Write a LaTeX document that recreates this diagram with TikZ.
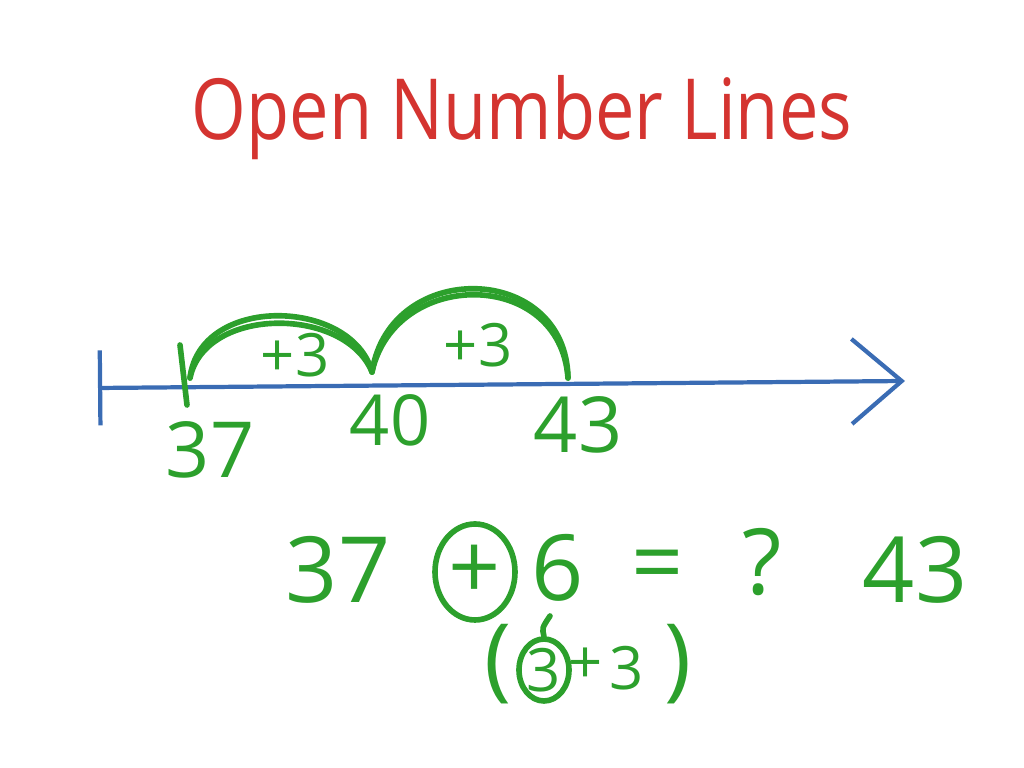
\documentclass[tikz,border=0pt]{standalone}
\usepackage{fontspec}
\setmainfont{Open Sans}
\usepackage{tikz}
\usetikzlibrary{arrows.meta,positioning,shapes.geometric}
\definecolor{penred}{RGB}{212,52,48}
\definecolor{pengreen}{RGB}{44,160,44}
\definecolor{penblue}{RGB}{58,108,180}
\tikzset{
  axis/.style   ={penblue, line width=1.2pt, line cap=round},
  hop/.style    ={pengreen, line width=1.6pt, line cap=round},
  ttl/.style    ={text=penred, font=\fontsize{20}{22}\selectfont, inner sep=0pt},
  numlbl/.style ={text=pengreen, font=\fontsize{22}{24}\selectfont, inner sep=0pt},
  hoplbl/.style ={text=pengreen, font=\fontsize{17}{19}\selectfont, inner sep=0pt},
  eqn/.style    ={text=pengreen, font=\fontsize{26}{28}\selectfont, inner sep=0pt},
  split/.style  ={text=pengreen, font=\fontsize{17}{19}\selectfont, inner sep=0pt},
  ring/.style   ={draw=pengreen, line width=1.6pt},
}
\begin{document}
\begin{tikzpicture}
  \useasboundingbox (0,0) rectangle (10.24,7.68);
  % title
  \node[ttl, anchor=base] (title) at (5.22,6.28) {\scalebox{1}[1.2]{Open Number Lines}};
  % the number line
  \coordinate (lstart) at (0.98,3.80);
  \coordinate (ltip) at (9.05,3.87);
  \draw[axis, {Bar[width=7.5mm]}-{Straight Barb[length=5mm,width=8.5mm]}]
    (lstart) -- (ltip);
  \coordinate (p37) at (1.90,3.90);
  \coordinate (p40) at (3.72,3.96);
  \coordinate (p43) at (5.68,3.90);
  \draw[hop] (1.80,4.23) -- (1.87,3.63);
  % two hops of three, each stroked twice
  \draw[hop] (p37) .. controls (2.05,4.62) and (3.45,4.62) .. (p40);
  \draw[hop] (p37) .. controls (2.00,4.74) and (3.52,4.70) .. (p40);
  \draw[hop] (p40) .. controls (3.95,5.00) and (5.60,5.00) .. (p43);
  \draw[hop] (p40) .. controls (3.90,5.10) and (5.66,5.06) .. (p43);
  \node[hoplbl] (hopa) at (2.95,4.13) {+3};
  \node[hoplbl] (hopb) at (4.78,4.23) {+3};
  \node[numlbl] (n37) at (2.10,3.18) {37};
  \node[hoplbl, font=\fontsize{20}{22}\selectfont] (n40) at (3.90,3.48) {40};
  \node[numlbl] (n43) at (5.78,3.43) {43};
  % the sum
  \node[eqn] (ea) at (3.38,1.98) {37};
  \node[eqn] (eplus) at (4.75,1.96) {+};
  \draw[ring] (eplus) ellipse (0.40 and 0.48);
  \node[eqn] (esix) at (5.58,2.00) {6};
  \node[eqn] (eeq) at (6.58,1.96) {=};
  \node[eqn] (eq) at (7.62,2.06) {?};
  \node[eqn] (eans) at (9.15,1.98) {43};
  % splitting the six
  \node[split, font=\fontsize{26}{28}\selectfont] (lpar) at (4.98,1.04) {(};
  \node[split, draw=pengreen, ellipse, line width=1.6pt, inner sep=0pt,
        minimum width=5mm, minimum height=5.8mm] (sa) at (5.44,0.98) {3};
  \node[split] (splus) at (5.86,1.02) {+};
  \node[split] (sb) at (6.27,1.00) {3};
  \node[split, font=\fontsize{26}{28}\selectfont] (rpar) at (6.78,1.04) {)};
  \draw[hop] (5.50,1.52) .. controls (5.42,1.40) .. (sa.north);
\end{tikzpicture}
\end{document}
